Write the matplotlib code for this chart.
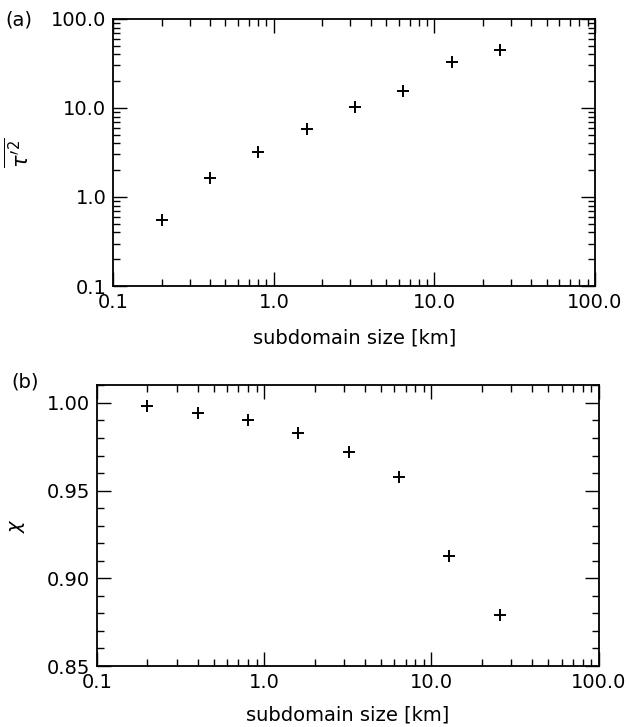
import matplotlib
matplotlib.use("Agg")
import matplotlib.pyplot as plt
from matplotlib.ticker import FixedLocator, FixedFormatter, LogLocator, MultipleLocator, NullFormatter

size_km = [0.2, 0.4, 0.8, 1.6, 3.2, 6.4, 12.8, 25.6]
tau_var = [0.55, 1.65, 3.2, 5.8, 10.3, 15.6, 33.0, 44.5]
chi = [0.998, 0.994, 0.990, 0.983, 0.972, 0.958, 0.913, 0.879]

log_ticks = [0.1, 1.0, 10.0, 100.0]
log_labels = ["0.1", "1.0", "10.0", "100.0"]
chi_ticks = [0.85, 0.90, 0.95, 1.00]
chi_labels = ["0.85", "0.90", "0.95", "1.00"]

plt.rcParams["font.family"] = "DejaVu Sans"
FS = 14

fig = plt.figure(figsize=(6.29, 7.27), dpi=100)
ax1 = fig.add_axes([0.180, 0.6066, 0.766, 0.3674])
ax2 = fig.add_axes([0.154, 0.0839, 0.798, 0.3865])


def style(ax):
    for s in ax.spines.values():
        s.set_linewidth(1.3)
    ax.tick_params(which="both", direction="in", top=True, right=True,
                   labelsize=FS, width=1.0, pad=5)
    ax.tick_params(which="major", length=10)
    ax.tick_params(which="minor", length=5)


# (a)
ax1.plot(size_km, tau_var, "+", color="black", ms=8, mew=1.4)
ax1.set_xscale("log")
ax1.set_yscale("log")
ax1.set_xlim(0.1, 100)
ax1.set_ylim(0.1, 100)
for axis in (ax1.xaxis, ax1.yaxis):
    axis.set_major_locator(FixedLocator(log_ticks))
    axis.set_major_formatter(FixedFormatter(log_labels))
    axis.set_minor_locator(LogLocator(base=10, subs=range(2, 10)))
    axis.set_minor_formatter(NullFormatter())
style(ax1)
ax1.set_xlabel("subdomain size [km]", fontsize=FS, labelpad=12)
ax1.set_ylabel(r"$\overline{\tau'^{2}}$", fontsize=FS + 1, labelpad=12)
fig.text(0.008, 0.973, "(a)", fontsize=FS, ha="left", va="center")

# (b)
ax2.plot(size_km, chi, "+", color="black", ms=8, mew=1.4)
ax2.set_xscale("log")
ax2.set_xlim(0.1, 100)
ax2.set_ylim(0.85, 1.0102)
ax2.xaxis.set_major_locator(FixedLocator(log_ticks))
ax2.xaxis.set_major_formatter(FixedFormatter(log_labels))
ax2.xaxis.set_minor_locator(LogLocator(base=10, subs=range(2, 10)))
ax2.xaxis.set_minor_formatter(NullFormatter())
ax2.yaxis.set_major_locator(FixedLocator(chi_ticks))
ax2.yaxis.set_major_formatter(FixedFormatter(chi_labels))
ax2.yaxis.set_minor_locator(MultipleLocator(0.01))
style(ax2)
ax2.set_xlabel("subdomain size [km]", fontsize=FS, labelpad=10)
ax2.set_ylabel(r"$\chi$", fontsize=FS, labelpad=14)
fig.text(0.018, 0.474, "(b)", fontsize=FS, ha="left", va="center")

fig.savefig("out.png", dpi=100)
